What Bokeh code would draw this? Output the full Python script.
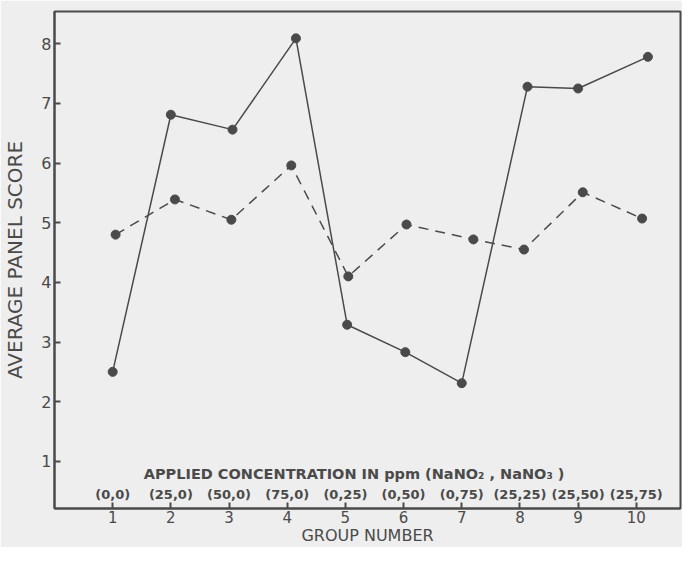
from bokeh.plotting import figure
from bokeh.models import Range1d, FixedTicker, ColumnDataSource
from bokeh.core.properties import value
from bokeh.embed import file_html
from bokeh.resources import INLINE

groups = [1, 2, 3, 4, 5, 6, 7, 8, 9, 10]
conc_labels = ["(0,0)", "(25,0)", "(50,0)", "(75,0)", "(0,25)", "(0,50)",
               "(0,75)", "(25,25)", "(25,50)", "(25,75)"]
# plotted positions as drawn (slight hand offsets from group numbers)
solid_x = [1.0, 2.0, 3.06, 4.15, 5.03, 6.03, 7.0, 8.13, 9.0, 10.2]
solid_y = [2.5, 6.81, 6.56, 8.09, 3.29, 2.83, 2.31, 7.28, 7.25, 7.78]
dashed_x = [1.05, 2.07, 3.04, 4.07, 5.05, 6.05, 7.2, 8.07, 9.08, 10.1]
dashed_y = [4.80, 5.39, 5.05, 5.96, 4.10, 4.97, 4.72, 4.55, 5.51, 5.07]
y_ticks = [1, 2, 3, 4, 5, 6, 7, 8]

INK = "#4a4a4a"
BG = "#eeeeee"
FONT = "DejaVu Sans"

p = figure(width=682, height=547, output_backend="svg", toolbar_location=None,
           x_range=Range1d(0, 10.76), y_range=Range1d(0.21, 8.54),
           background_fill_color=BG, border_fill_color=BG,
           min_border_top=11, min_border_right=2, min_border_left=53, min_border_bottom=10)
p.grid.visible = False
p.outline_line_color = INK
p.outline_line_width = 2

for ax in (p.xaxis[0], p.yaxis[0]):
    ax.axis_line_color = INK
    ax.axis_line_width = 2
    ax.major_tick_line_color = INK
    ax.major_tick_line_width = 2
    ax.major_tick_in = 6
    ax.major_tick_out = 0
    ax.minor_tick_line_color = None
    ax.major_label_text_color = INK
    ax.major_label_text_font = FONT
    ax.axis_label_text_color = INK
    ax.axis_label_text_font = FONT
    ax.axis_label_text_font_style = "normal"

p.xaxis.ticker = FixedTicker(ticks=groups)
p.yaxis.ticker = FixedTicker(ticks=y_ticks)
p.xaxis.axis_label = "GROUP NUMBER"
p.yaxis.axis_label = "AVERAGE PANEL SCORE"
p.xaxis.major_label_text_font_size = "15px"
p.yaxis.major_label_text_font_size = "16px"
p.xaxis.axis_label_text_font_size = "16px"
p.yaxis.axis_label_text_font_size = "20px"
p.xaxis.major_label_standoff = 2
p.xaxis.axis_label_standoff = 0
p.yaxis.major_label_standoff = 3
p.yaxis.axis_label_standoff = 11

p.line(solid_x, solid_y, line_color=INK, line_width=1.5)
p.scatter(solid_x, solid_y, size=9, fill_color=INK, line_color=INK)
p.line(dashed_x, dashed_y, line_color=INK, line_width=1.5, line_dash="10 7")
p.scatter(dashed_x, dashed_y, size=9, fill_color=INK, line_color=INK)

src = ColumnDataSource(dict(x=groups, y=[0.45] * len(groups), t=conc_labels))
p.text(x="x", y="y", text="t", source=src, text_align="center", text_baseline="middle",
       text_font=value(FONT), text_font_size="13px", text_color=INK, text_font_style="bold")
p.text(x=[5.15], y=[0.79], text=["APPLIED CONCENTRATION IN ppm (NaNO\u2082 , NaNO\u2083 )"],
       text_align="center", text_baseline="middle",
       text_font=value(FONT), text_font_size="14.5px", text_color=INK, text_font_style="bold")

open("out.html", "w").write(file_html(p, INLINE))
